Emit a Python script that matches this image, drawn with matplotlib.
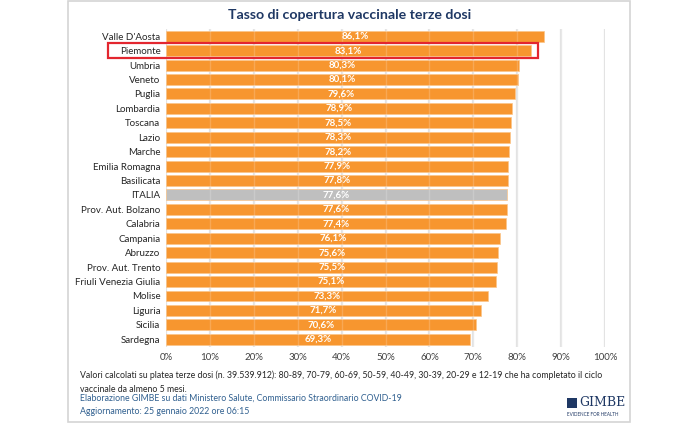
import matplotlib.pyplot as plt
from matplotlib.patches import Rectangle

plt.rcParams['font.family'] = ['Lato', 'DejaVu Sans']

regions = ["Valle D'Aosta", "Piemonte", "Umbria", "Veneto", "Puglia", "Lombardia",
           "Toscana", "Lazio", "Marche", "Emilia Romagna", "Basilicata", "ITALIA",
           "Prov. Aut. Bolzano", "Calabria", "Campania", "Abruzzo", "Prov. Aut. Trento",
           "Friuli Venezia Giulia", "Molise", "Liguria", "Sicilia", "Sardegna"]
coverage = [86.1, 83.1, 80.3, 80.1, 79.6, 78.9, 78.5, 78.3, 78.2, 77.9, 77.8, 77.6,
            77.6, 77.4, 76.1, 75.6, 75.5, 75.1, 73.3, 71.7, 70.6, 69.3]
ticks = [0, 10, 20, 30, 40, 50, 60, 70, 80, 90, 100]
highlight = "Piemonte"

orange = '#F7962F'
grey = '#BFBFBF'
navy = '#1F3864'
blue = '#2F5F8F'

W, H = 700, 424
fig = plt.figure(figsize=(7, 4.24), dpi=100)
fig.patch.set_facecolor('white')

# light frame around the whole card
fig.patches.append(Rectangle((68 / W, 1 - 422 / H), (630 - 68) / W, 421 / H,
                             transform=fig.transFigure, fill=False,
                             edgecolor='#D4D4D4', linewidth=1.2))

ax = fig.add_axes([166 / W, 1 - 346.5 / H, (605 - 166) / W, (346.5 - 29) / H])

colors = [grey if r == "ITALIA" else orange for r in regions]
ypos = list(range(len(regions)))
ax.barh(ypos, coverage, height=0.76, color=colors, edgecolor='#FBC58A',
        linewidth=0.5, zorder=3)

for y, v in zip(ypos, coverage):
    ax.text(v / 2, y, f"{v:.1f}%".replace('.', ','), ha='center', va='center',
            color='white', fontsize=7, fontweight='bold', zorder=4)

ax.set_xlim(0, 100)
ax.set_ylim(len(regions) - 0.5, -0.5)
ax.set_xticks(ticks)
ax.set_xticklabels([f"{t}%" for t in ticks], fontsize=7, color='#404040')
ax.set_yticks(ypos)
ax.set_yticklabels(regions, fontsize=7, color='#262626')
ax.tick_params(length=0, pad=4)
ax.tick_params(axis='x', pad=5)
ax.grid(axis='x', color='#E3E3E3', linewidth=1.6, zorder=0)
# faint trace of the grid across the bars
for t in ticks[1:-1]:
    ax.axvline(t, color='white', alpha=0.18, linewidth=1.0, zorder=3.5)
for s in ax.spines.values():
    s.set_visible(False)

# red box around the highlighted row
i = regions.index(highlight)
ax.add_patch(Rectangle((-13.2, i - 0.52), coverage[i] + 1.6 + 13.2, 1.04,
                       fill=False, edgecolor='#E3262F', linewidth=1.6,
                       clip_on=False, zorder=5))

fig.text(350 / W, 1 - 15 / H, "Tasso di copertura vaccinale terze dosi",
         ha='center', va='center', fontsize=10.2, fontweight='bold', color=navy)

fig.text(80 / W, 1 - 375 / H,
         "Valori calcolati su platea terze dosi (n. 39.539.912): 80-89, 70-79, 60-69, 50-59, "
         "40-49, 30-39, 20-29 e 12-19 che ha completato il ciclo",
         ha='left', va='center', fontsize=6.3, color='#262626')
fig.text(80 / W, 1 - 389 / H, "vaccinale da almeno 5 mesi.",
         ha='left', va='center', fontsize=6.3, color='#262626')
fig.text(80 / W, 1 - 398.5 / H,
         "Elaborazione GIMBE su dati Ministero Salute, Commissario Straordinario COVID-19",
         ha='left', va='center', fontsize=6.3, color=blue)
fig.text(80 / W, 1 - 411 / H, "Aggiornamento: 25 gennaio 2022 ore 06:15",
         ha='left', va='center', fontsize=6.3, color=blue)

# GIMBE logo
fig.patches.append(Rectangle((567 / W, 1 - 408 / H), 10 / W, 10 / H,
                             transform=fig.transFigure, facecolor=navy,
                             edgecolor='none'))
fig.text(579 / W, 1 - 403 / H, "GIMBE", ha='left', va='center', fontsize=9,
         family='DejaVu Serif', color=navy)
fig.text(593 / W, 1 - 414 / H, "EVIDENCE FOR HEALTH", ha='center', va='center',
         fontsize=3.3, color=navy)

fig.savefig('out.png', dpi=100, facecolor='white')
